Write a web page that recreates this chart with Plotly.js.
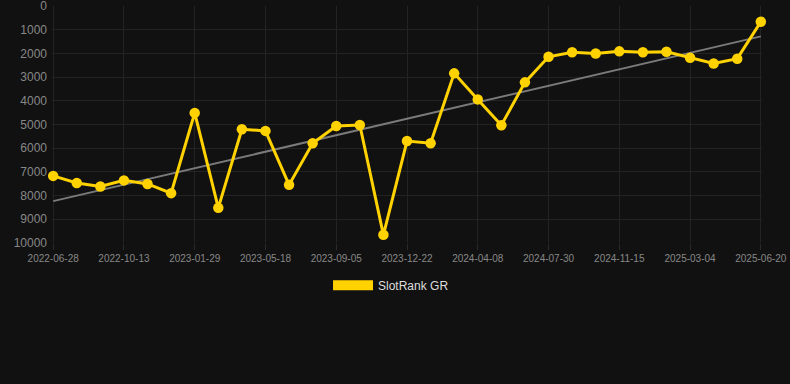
<!DOCTYPE html>
<html>
<head>
<meta charset="utf-8">
<script src="https://cdn.plot.ly/plotly-3.0.1.min.js"></script>
<style>
html,body{margin:0;padding:0;background:#111111;}
#chart{width:790px;height:384px;}
</style>
</head>
<body>
<div id="chart"></div>
<script>
// Dates of the observations (evenly spaced, estimated between labelled ticks)
var dates = [
  "2022-06-28","2022-08-03","2022-09-07","2022-10-13","2022-11-18","2022-12-24",
  "2023-01-29","2023-03-06","2023-04-11","2023-05-18","2023-06-23","2023-07-29",
  "2023-09-05","2023-10-11","2023-11-16","2023-12-22","2024-01-27","2024-03-03",
  "2024-04-08","2024-05-14","2024-06-23","2024-07-30","2024-09-04","2024-10-10",
  "2024-11-15","2024-12-21","2025-01-26","2025-03-04","2025-04-09","2025-05-15",
  "2025-06-20"
];
var rankValues = [
  7170,7470,7620,7360,7510,7900,
  4510,8520,5200,5270,7550,5790,
  5060,5020,9660,5700,5790,2840,
  3940,5030,3220,2140,1950,2000,
  1910,1950,1930,2180,2420,2220,
  660
];
var tickLabels = [
  "2022-06-28","2022-10-13","2023-01-29","2023-05-18","2023-09-05","2023-12-22",
  "2024-04-08","2024-07-30","2024-11-15","2025-03-04","2025-06-20"
];
var yTicks = [0,1000,2000,3000,4000,5000,6000,7000,8000,9000,10000];
var yTickText = ["0","1000","2000","3000","4000","5000","6000","7000","8000","9000","10000"];
var seriesName = "SlotRank GR";

// least-squares trend line from the data
var n = rankValues.length, sx=0, sy=0, sxx=0, sxy=0;
for (var i=0;i<n;i++){ sx+=i; sy+=rankValues[i]; sxx+=i*i; sxy+=i*rankValues[i]; }
var slope = (n*sxy - sx*sy)/(n*sxx - sx*sx);
var intercept = (sy - slope*sx)/n;
var trendY = [intercept, intercept + slope*(n-1)];
var trendX = [dates[0], dates[n-1]];

var gold = "#FFD200";
var traces = [
  {
    x: trendX, y: trendY, type: "scatter", mode: "lines",
    line: {color: "#7a7a7a", width: 2},
    hoverinfo: "skip", showlegend: false
  },
  {
    x: dates, y: rankValues, type: "scatter", mode: "lines+markers",
    name: seriesName,
    line: {color: gold, width: 3},
    marker: {color: gold, size: 10.5},
    cliponaxis: false,
    showlegend: false
  },
  {
    x: [null], y: [null], type: "scatter", mode: "lines",
    name: seriesName,
    line: {color: gold, width: 12},
    showlegend: true
  }
];

var layout = {
  width: 790, height: 384,
  paper_bgcolor: "#111111", plot_bgcolor: "#111111",
  margin: {l: 52, r: 28, t: 6, b: 141},
  font: {family: "Liberation Sans, Arial, sans-serif", color: "#888888"},
  showlegend: true,
  legend: {
    orientation: "h", x: 0.4775, xanchor: "center", y: -0.117, yanchor: "top",
    font: {size: 12, color: "#dddddd"}, itemwidth: 40
  },
  xaxis: {
    type: "category",
    categoryorder: "array", categoryarray: dates,
    range: [-0.05, 30.05],
    tickmode: "array", tickvals: tickLabels, ticktext: tickLabels,
    tickfont: {size: 10, color: "#888888"},
    showgrid: true, gridcolor: "#232323", gridwidth: 1,
    zeroline: false, showline: false,
    ticks: "outside", ticklen: 6, tickcolor: "#2a2a2a",
    ticklabeloverflow: "allow"
  },
  yaxis: {
    range: [10005, -5], autorange: false,
    tickmode: "array", tickvals: yTicks, ticktext: yTickText,
    tickfont: {size: 12, color: "#888888"},
    showgrid: true, gridcolor: "#232323", gridwidth: 1,
    zeroline: false, showline: false, ticks: "", ticklabelstandoff: 4,
    ticklabeloverflow: "allow"
  }
};

Plotly.newPlot("chart", traces, layout, {displayModeBar: false, staticPlot: true});
</script>
</body>
</html>
